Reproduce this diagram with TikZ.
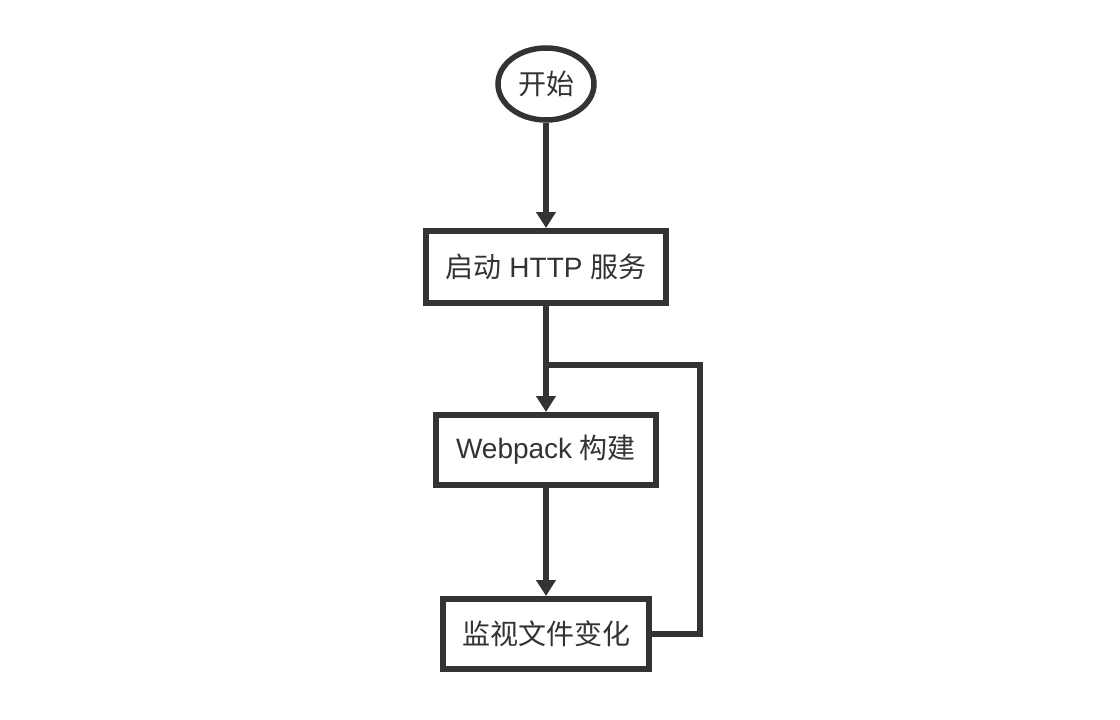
\documentclass[tikz,border=0pt]{standalone}
\usepackage{fontspec}
\setmainfont{Liberation Sans}
\newfontfamily\cjk{Noto Sans CJK SC}
\usetikzlibrary{arrows.meta,shapes.geometric}
\definecolor{FlowInk}{RGB}{51,51,51}
\tikzset{
  startnode/.style={ellipse,draw=FlowInk,line width=5.5pt,fill=white,
    minimum width=96pt,minimum height=72pt,inner sep=0pt,text=FlowInk},
  stepbox/.style={rectangle,draw=FlowInk,line width=6pt,fill=white,
    minimum height=72pt,inner sep=0pt,text=FlowInk},
  flow/.style={draw=FlowInk,line width=5.5pt,line join=miter},
  flowarrow/.style={flow,-{Triangle[length=16pt,width=19pt]}},
}
\begin{document}
\begin{tikzpicture}[x=1pt,y=-1pt,font=\fontsize{28}{33}\selectfont]
  \useasboundingbox (0,0) rectangle (1120,720);
  \node[startnode] (start) at (546,84) {\cjk 开始};
  \node[stepbox,minimum width=240pt] (http) at (546,267)
    {{\cjk 启动} HTTP {\cjk 服务}};
  \node[stepbox,minimum width=220pt,minimum height=70pt] (build) at (546,450)
    {Webpack {\cjk 构建}};
  \node[stepbox,minimum width=206pt,minimum height=70pt] (watch) at (546,634)
    {\cjk 监视文件变化};
  \coordinate (merge) at (546,365);
  \coordinate (loop) at (700,365);
  \draw[flowarrow] (start) -- (http);
  \draw[flowarrow] (http) -- (build);
  \draw[flowarrow] (build) -- (watch);
  \draw[flow] (watch.east) -| (loop) -- (merge);
\end{tikzpicture}
\end{document}
